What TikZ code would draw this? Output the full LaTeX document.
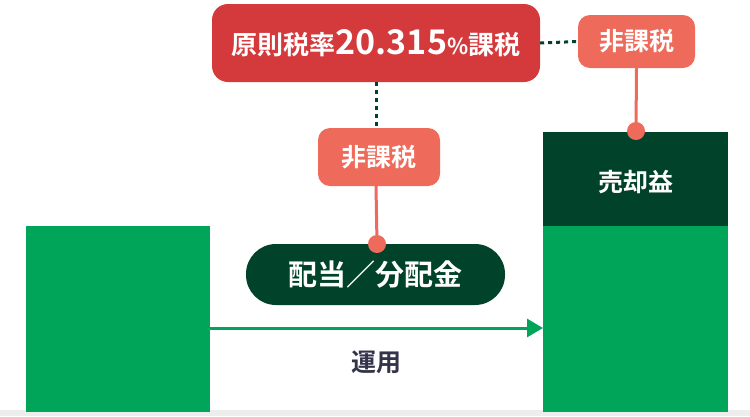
\documentclass[tikz,border=0pt]{standalone}
\usepackage{fontspec}
\newfontfamily\cjk{Noto Sans CJK JP}[BoldFont={Noto Sans CJK JP Bold}]
\usetikzlibrary{arrows.meta}
\definecolor{gr}{HTML}{00A55A}
\definecolor{dg}{HTML}{00432A}
\definecolor{rd}{HTML}{D43A3C}
\definecolor{sa}{HTML}{EE6A5A}
\definecolor{tx}{HTML}{33334A}
\tikzset{lbl/.style={font=\cjk\bfseries\fontsize{25}{27}\selectfont,text=white},
 tag/.style={fill=sa,rounded corners=12pt,lbl},
 dotline/.style={draw=dg,line width=3pt,dash pattern=on 4pt off 4pt},
 pin/.style={draw=sa,line width=3pt}}
\begin{document}
\begin{tikzpicture}[x=1pt,y=-1pt]
\useasboundingbox (0,0) rectangle (750,416);
\fill[black!7] (0,410) rectangle (750,416);
\fill[gr] (26,226) rectangle (210,412);
\fill[gr] (543,226) rectangle (728,412);
\fill[dg] (543,132) rectangle (728,226);
\node[lbl] (sale) at (635.5,182) {売却益};
\coordinate (L) at (210,328);
\coordinate (R) at (543,328);
\draw[gr,line width=3pt,-{Triangle[length=16pt,width=18pt]}] (L) -- (R);
\node[font=\cjk\bfseries\fontsize{25}{27}\selectfont,text=tx] (use) at (376,362) {運用};
\node[fill=dg,rounded corners=30pt,minimum width=259pt,minimum height=61pt,lbl,font=\cjk\bfseries\fontsize{29}{31}\selectfont] (div) at (375.5,274.5) {配当／分配金};
\node[fill=rd,rounded corners=16pt,minimum width=328pt,minimum height=78pt,lbl,font=\cjk\bfseries\fontsize{26}{28}\selectfont] (tax) at (376,43) {原則税率{\fontsize{34}{35}\selectfont 20.315}{\fontsize{22}{24}\selectfont \%}課税};
\node[tag,minimum width=122pt,minimum height=58pt] (n1) at (379,157) {非課税};
\node[tag,minimum width=117pt,minimum height=53pt] (n2) at (636.5,41.5) {非課税};
\draw[dotline] (376,82) -- (376,128);
\draw[dotline] (tax.east) -- (n2.west);
\coordinate (d1) at (377,244);
\coordinate (d2) at (636,131);
\draw[pin] (376,186) -- (d1);
\draw[pin] (n2.south) -- (d2);
\fill[sa] (d1) circle (9pt) (d2) circle (9pt);
\end{tikzpicture}
\end{document}
